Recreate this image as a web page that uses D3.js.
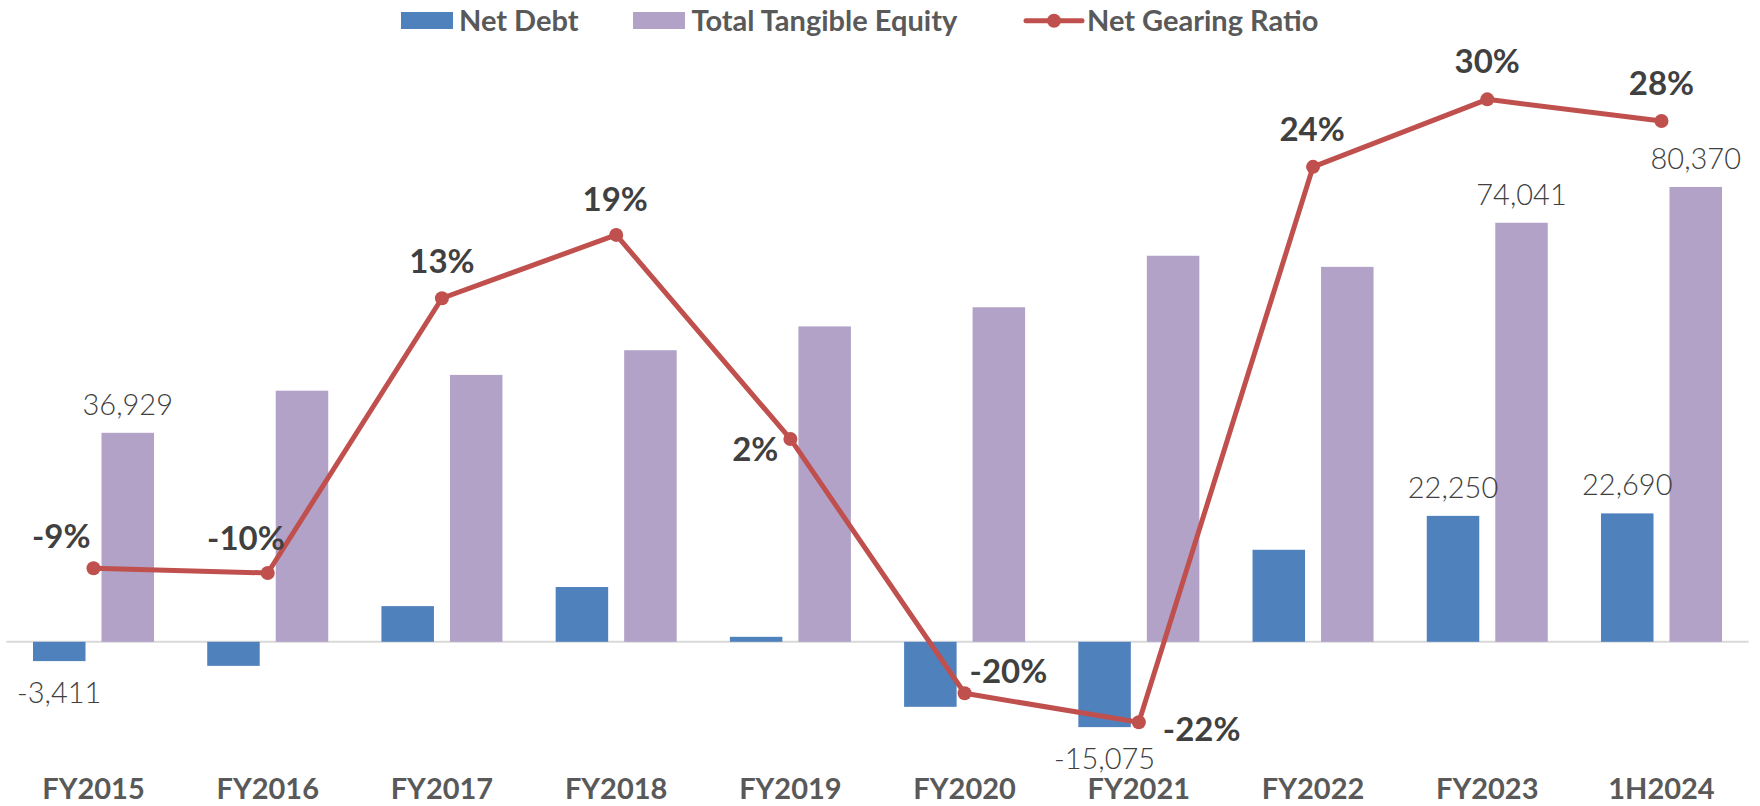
<!DOCTYPE html>
<html>
<head>
<meta charset="utf-8">
<script src="https://cdn.jsdelivr.net/npm/d3@7"></script>
<style>
  html, body { margin: 0; padding: 0; background: #ffffff; }
  svg { display: block; }
</style>
</head>
<body>
<svg id="chart" width="1760" height="806"></svg>
<script>
// ---------------- DATA ----------------
const categories = ["FY2015", "FY2016", "FY2017", "FY2018", "FY2019", "FY2020", "FY2021", "FY2022", "FY2023", "1H2024"];
const netDebt = [-3411, -4250, 6300, 9680, 880, -11490, -15075, 16260, 22250, 22690];
const totalTangibleEquity = [36929, 44370, 47160, 51520, 55730, 59110, 68210, 66250, 74041, 80370];
const netGearingRatio = [-0.092, -0.096, 0.134, 0.187, 0.0162, -0.1967, -0.221, 0.244, 0.3005, 0.2823];
const showNetDebtLabel = [true, false, false, false, false, false, true, false, true, true];
const showEquityLabel = [true, false, false, false, false, false, false, false, true, true];
const seriesNames = ["Net Debt", "Total Tangible Equity", "Net Gearing Ratio"];

// ---------------- LAYOUT / STYLE ----------------
const colors = { netDebt: "#4f81bd", equity: "#b2a2c7", ratio: "#c0504d" };
// per-point placement of the gearing-ratio labels: [anchor, dx, dy(baseline)]
const ratioLabelPlacement = [
  ["end", -3, -20.6], ["end", 17, -22.7], ["middle", 0, -25.7], ["middle", -1, -23.6],
  ["end", -12, 22], ["start", 5, -10.6], ["start", 24, 18.7], ["middle", -1, -26],
  ["middle", 0, -26], ["middle", 0, -26.4]
];

const svg = d3.select("#chart");
const fmtLocale = d3.formatLocale({ decimal: ".", thousands: ",", grouping: [3], currency: ["", ""], minus: "-" });
const fmtNum = fmtLocale.format(",.0f");
const fmtPct = fmtLocale.format(".0%");

const x = d3.scaleBand().domain(categories).range([6.4, 1748.6]).paddingInner(0).paddingOuter(0);
const bw = x.bandwidth();
const xSub = d3.scaleBand().domain(["netDebt", "equity"]).range([26.6, bw - 26.6]).paddingInner(0.2336).paddingOuter(0);
const yL = d3.scaleLinear().domain([-20000, 100000]).range([754.99, 75.85]);
const yR = d3.scaleLinear().domain([-0.25, 0.35]).range([756.95, 40.2]);
const cx = c => x(c) + bw / 2;

// zero axis line
svg.append("line")
  .attr("x1", x.range()[0]).attr("x2", x.range()[1])
  .attr("y1", yL(0)).attr("y2", yL(0))
  .attr("stroke", "#d9d9d9").attr("stroke-width", 2);

// bars
const g = svg.append("g");
categories.forEach((c, i) => {
  const nd = netDebt[i], eq = totalTangibleEquity[i];
  g.append("rect")
    .attr("x", x(c) + xSub("netDebt")).attr("width", xSub.bandwidth())
    .attr("y", yL(Math.max(0, nd))).attr("height", Math.abs(yL(nd) - yL(0)))
    .attr("fill", colors.netDebt);
  g.append("rect")
    .attr("x", x(c) + xSub("equity")).attr("width", xSub.bandwidth())
    .attr("y", yL(Math.max(0, eq))).attr("height", Math.abs(yL(eq) - yL(0)))
    .attr("fill", colors.equity);
});

// value labels
const valueFont = "Lato, 'Open Sans', sans-serif";
categories.forEach((c, i) => {
  if (showNetDebtLabel[i]) {
    const v = netDebt[i];
    const xx = x(c) + xSub("netDebt") + xSub.bandwidth() / 2;
    const yy = v >= 0 ? yL(v) - 18 : yL(v) + 42;
    svg.append("text").attr("x", xx).attr("y", yy).attr("text-anchor", "middle")
      .attr("font-family", valueFont).attr("font-weight", 300).attr("font-size", 29)
      .attr("fill", "#404040").text(fmtNum(v));
  }
  if (showEquityLabel[i]) {
    const v = totalTangibleEquity[i];
    const xx = x(c) + xSub("equity") + xSub.bandwidth() / 2;
    svg.append("text").attr("x", xx).attr("y", yL(v) - 18).attr("text-anchor", "middle")
      .attr("font-family", valueFont).attr("font-weight", 300).attr("font-size", 29)
      .attr("fill", "#404040").text(fmtNum(v));
  }
});

// ratio line
const line = d3.line().x((d, i) => cx(categories[i])).y(d => yR(d));
svg.append("path").datum(netGearingRatio)
  .attr("d", line).attr("fill", "none")
  .attr("stroke", colors.ratio).attr("stroke-width", 5).attr("stroke-linejoin", "round");
svg.selectAll("circle.pt").data(netGearingRatio).enter().append("circle")
  .attr("class", "pt")
  .attr("cx", (d, i) => cx(categories[i])).attr("cy", d => yR(d)).attr("r", 7)
  .attr("fill", colors.ratio);

// ratio labels
netGearingRatio.forEach((d, i) => {
  const p = ratioLabelPlacement[i];
  svg.append("text")
    .attr("x", cx(categories[i]) + p[1]).attr("y", yR(d) + p[2])
    .attr("text-anchor", p[0])
    .attr("font-family", "Lato, sans-serif").attr("font-weight", 700).attr("font-size", 33)
    .attr("fill", "#404040").text(fmtPct(d));
});

// category labels
svg.selectAll("text.cat").data(categories).enter().append("text")
  .attr("class", "cat")
  .attr("x", d => cx(d)).attr("y", 799)
  .attr("text-anchor", "middle")
  .attr("font-family", "Lato, sans-serif").attr("font-weight", 700).attr("font-size", 29)
  .attr("fill", "#595959").text(d => d);

// legend
const legendFont = { family: "Lato, sans-serif", size: 29, color: "#595959" };
const lg = svg.append("g");
lg.append("rect").attr("x", 401).attr("y", 12).attr("width", 52).attr("height", 17).attr("fill", colors.netDebt);
lg.append("text").attr("x", 459).attr("y", 30.7).text(seriesNames[0]);
lg.append("rect").attr("x", 633).attr("y", 12).attr("width", 52).attr("height", 17).attr("fill", colors.equity);
lg.append("text").attr("x", 691.5).attr("y", 30.7).text(seriesNames[1]);
lg.append("line").attr("x1", 1026).attr("x2", 1082).attr("y1", 20.7).attr("y2", 20.7)
  .attr("stroke", colors.ratio).attr("stroke-width", 5).attr("stroke-linecap", "round");
lg.append("circle").attr("cx", 1054).attr("cy", 20.7).attr("r", 7).attr("fill", colors.ratio);
lg.append("text").attr("x", 1087).attr("y", 30.7).text(seriesNames[2]);
lg.selectAll("text").attr("font-family", legendFont.family).attr("font-weight", 700)
  .attr("font-size", legendFont.size).attr("fill", legendFont.color);
</script>
</body>
</html>
